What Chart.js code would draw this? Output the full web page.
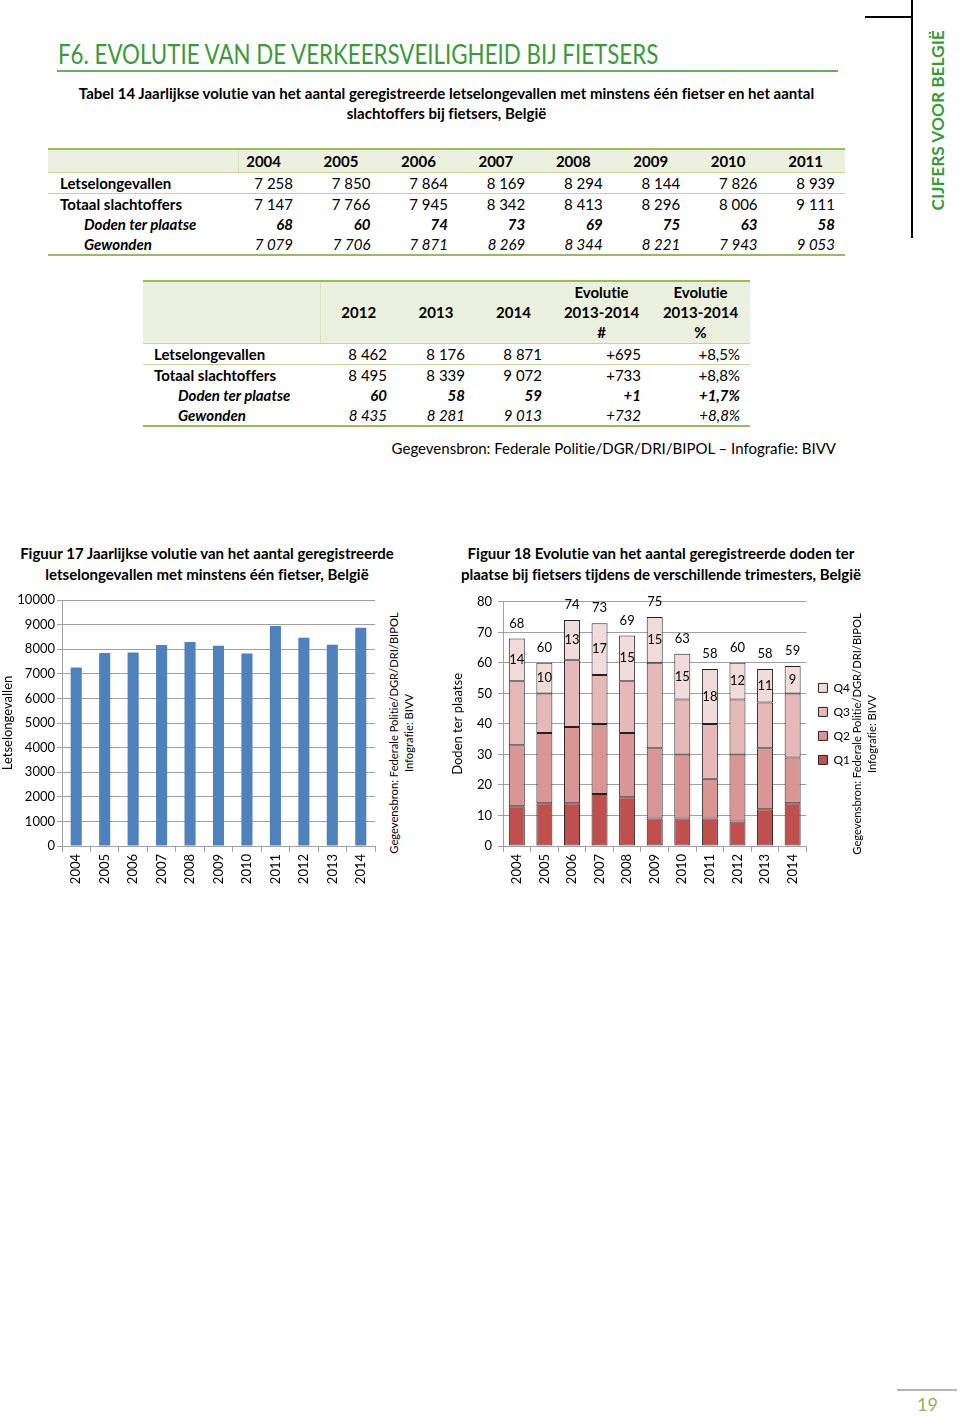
<!DOCTYPE html>
<html>
<head>
<meta charset="utf-8">
<script src="https://cdn.jsdelivr.net/npm/chart.js@4.4.1/dist/chart.umd.min.js"></script>
<style>
    body { margin: 0; width: 960px; height: 1418px; background: #fff; position: relative; overflow: hidden;
           font-family: Lato, 'Open Sans', sans-serif; color: #000; font-variant-ligatures: none; }
    .abs { position: absolute; white-space: nowrap; }
    .tbl { position: absolute; border-collapse: collapse; table-layout: fixed; font-size: 15px; }
    .tbl td { padding: 0 10px 0 0; text-align: right; white-space: nowrap; line-height: 20px; }
    .tbl td.lab { text-align: left; font-weight: bold; }
    .tbl tr.hdr td { background: #ebf1de; font-weight: bold; border-top: 2px solid #9bbb59; }
    .tbl tr.line td { border-bottom: 1px solid #c3d69b; }
    .tbl tr.last td { border-bottom: 2px solid #9bbb59; }
    .tbl tr.bi td { font-weight: bold; font-style: italic; }
    .tbl tr.it td { font-style: italic; }
    .tbl tr.it td.lab { font-weight: bold; }
    .rot { position: absolute; transform: rotate(-90deg); text-align: center; white-space: nowrap; }
    canvas { position: absolute; }
</style>
</head>
<body>

<div class="abs" id="title" style="left:58px;top:38px;font-size:26px;color:#3a9a3a;transform-origin:left center;">F6. EVOLUTIE VAN DE VERKEERSVEILIGHEID BIJ FIETSERS</div>
<div class="abs" style="left:57px;top:70px;width:781px;height:2px;background:#6aae5a;"></div>

<div class="abs" style="left:48px;top:83px;width:797px;text-align:center;font-size:15px;font-weight:bold;line-height:20px;">
    Tabel 14 Jaarlijkse volutie van het aantal geregistreerde letselongevallen met minstens één fietser en het aantal<br>slachtoffers bij fietsers, België
</div>

<table class="tbl" id="tab1" style="left:48px;top:148px;width:797px;"></table>
<table class="tbl" id="tab2" style="left:143px;top:280px;width:607px;"></table>

<div class="abs" style="right:124px;top:438px;font-size:15px;line-height:20px;">Gegevensbron: Federale Politie/DGR/DRI/BIPOL – Infografie: BIVV</div>

<div class="abs" style="left:7px;top:543px;width:400px;text-align:center;font-size:15px;font-weight:bold;line-height:21px;">
    Figuur 17 Jaarlijkse volutie van het aantal geregistreerde<br>letselongevallen met minstens één fietser, België
</div>
<div class="abs" style="left:451px;top:543px;width:420px;text-align:center;font-size:15px;font-weight:bold;line-height:21px;">
    Figuur 18 Evolutie van het aantal geregistreerde doden ter<br>plaatse bij fietsers tijdens de verschillende trimesters, België
</div>

<canvas id="fig17" width="382" height="302" style="left:0px;top:588px;"></canvas>
<canvas id="fig18" width="410" height="302" style="left:450px;top:588px;"></canvas>

<div class="rot" style="left:271px;top:718px;width:260px;font-size:11.2px;line-height:15px;">Gegevensbron: Federale Politie/DGR/DRI/BIPOL<br>Infografie: BIVV</div>
<div class="rot" style="left:734px;top:719px;width:260px;font-size:11.2px;line-height:15px;">Gegevensbron: Federale Politie/DGR/DRI/BIPOL<br>Infografie: BIVV</div>

<!-- side bar -->
<div class="abs" style="left:911px;top:0px;width:2px;height:238px;background:#000;"></div>
<div class="abs" style="left:865px;top:16px;width:47px;height:2px;background:#000;"></div>
<div class="rot" style="left:848px;top:110px;width:180px;height:20px;line-height:20px;font-size:17px;font-weight:bold;color:#3a9a3a;"><span id="side" style="display:inline-block;">CIJFERS VOOR BELGIË</span></div>

<div class="abs" style="left:897px;top:1389px;width:60px;height:2px;background:#b5b5b5;"></div>
<div class="abs" style="left:917px;top:1393px;font-size:18px;color:#9bb05a;">19</div>

<script>
// --- data --- //
const years = ['2004', '2005', '2006', '2007', '2008', '2009', '2010', '2011', '2012', '2013', '2014'];
const letselongevallen = [7258, 7850, 7864, 8169, 8294, 8144, 7826, 8939, 8462, 8176, 8871];
const totaalSlachtoffers = [7147, 7766, 7945, 8342, 8413, 8296, 8006, 9111, 8495, 8339, 9072];
const dodenTerPlaatse = [68, 60, 74, 73, 69, 75, 63, 58, 60, 58, 59];
const gewonden = [7079, 7706, 7871, 8269, 8344, 8221, 7943, 9053, 8435, 8281, 9013];
const evolutieAbs = ['+695', '+733', '+1', '+732'];
const evolutiePct = ['+8,5%', '+8,8%', '+1,7%', '+8,8%'];

// deaths per trimester
const q1 = [13, 14, 14, 17, 16, 9, 9, 9, 8, 12, 14];
const q2 = [20, 23, 25, 23, 21, 23, 21, 13, 22, 20, 15];
const q3 = [21, 13, 22, 16, 17, 28, 18, 18, 18, 15, 21];
const q4 = [14, 10, 13, 17, 15, 15, 15, 18, 12, 11, 9];

const yTicks17 = { min: 0, max: 10000, step: 1000 };
const yTicks18 = { min: 0, max: 80, step: 10 };

function fmt(n) {
    return String(n).replace(/\B(?=(\d{3})+(?!\d))/g, ' ');
}

// --- tables --- //
function buildTable1() {
    const t = document.getElementById('tab1');
    const first = years.slice(0, 8);
    let html = '<colgroup><col style="width:190px"><col style="width:65px">';
    for (let i = 1; i < 8; i++) html += '<col style="width:77.43px">';
    html += '</colgroup>';
    html += '<tr class="hdr line" style="height:23px"><td class="lab" style="border-right:1px solid #d7e4bc"></td>' +
        first.map(y => `<td style="padding-right:22px">${y}</td>`).join('') + '</tr>';
    const rows = [
        ['Letselongevallen', letselongevallen, 'line', 12],
        ['Totaal slachtoffers', totaalSlachtoffers, '', 12],
        ['Doden ter plaatse', dodenTerPlaatse, 'bi', 36],
        ['Gewonden', gewonden, 'it last', 36]
    ];
    rows.forEach(([name, vals, cls, ind]) => {
        html += `<tr class="${cls}" style="height:20px"><td class="lab" style="padding-left:${ind}px">${name}</td>` +
            vals.slice(0, 8).map(v => `<td>${fmt(v)}</td>`).join('') + '</tr>';
    });
    t.innerHTML = html;
}

function buildTable2() {
    const t = document.getElementById('tab2');
    const widths = [177, 77, 78, 77, 99, 99];
    let html = '<colgroup>' + widths.map(w => `<col style="width:${w}px">`).join('') + '</colgroup>';
    const heads = years.slice(8).concat(['Evolutie<br>2013-2014<br>#', 'Evolutie<br>2013-2014<br>%']);
    html += '<tr class="hdr line" style="height:62px"><td class="lab" style="border-right:1px solid #d7e4bc"></td>' +
        heads.map(h => `<td style="text-align:center;padding:0">${h}</td>`).join('') + '</tr>';
    const rows = [
        ['Letselongevallen', letselongevallen, 0, 'line', 11],
        ['Totaal slachtoffers', totaalSlachtoffers, 1, '', 11],
        ['Doden ter plaatse', dodenTerPlaatse, 2, 'bi', 35],
        ['Gewonden', gewonden, 3, 'it last', 35]
    ];
    rows.forEach(([name, vals, k, cls, ind]) => {
        html += `<tr class="${cls}" style="height:20px"><td class="lab" style="padding-left:${ind}px">${name}</td>` +
            vals.slice(8).map(v => `<td>${fmt(v)}</td>`).join('') +
            `<td>${evolutieAbs[k]}</td><td>${evolutiePct[k]}</td></tr>`;
    });
    t.innerHTML = html;
}

buildTable1();
buildTable2();

// squeeze wide text into the width it has in the print
function fitWidth(el, w) {
    el.style.transform = (el.style.transform || '') + ` scaleX(${w / el.offsetWidth})`;
}
fitWidth(document.getElementById('title'), 600);
const side = document.getElementById('side');
side.style.transformOrigin = 'center center';
fitWidth(side, 180);

// --- charts --- //
Chart.defaults.font.family = 'Lato, "Open Sans", sans-serif';
Chart.defaults.color = '#000';

const axisGrey = '#a0a0a0';

new Chart(document.getElementById('fig17'), {
    type: 'bar',
    data: {
        labels: years,
        datasets: [{
            data: letselongevallen,
            backgroundColor: '#4f81bd',
            barPercentage: 0.39,
            categoryPercentage: 1
        }]
    },
    options: {
        responsive: false,
        animation: false,
        layout: { padding: { top: 12, right: 7, left: 0, bottom: 0 } },
        plugins: { legend: { display: false }, tooltip: { enabled: false } },
        scales: {
            x: {
                grid: { offset: true, drawOnChartArea: false, tickLength: 6, color: axisGrey },
                border: { color: axisGrey },
                ticks: { minRotation: 90, maxRotation: 90, font: { size: 13 }, padding: 2 },
                afterFit: s => { s.height = 44; }
            },
            y: {
                min: yTicks17.min,
                max: yTicks17.max,
                ticks: { stepSize: yTicks17.step, font: { size: 13 }, padding: 2, callback: v => String(v) },
                grid: { color: axisGrey, tickLength: 5 },
                border: { color: axisGrey },
                title: { display: true, text: 'Letselongevallen', font: { size: 13 }, padding: 0 },
                afterFit: s => { s.width = 62; }
            }
        }
    }
});

// labels inside the Q4 segment and the total above each stack
const fig18Labels = {
    id: 'fig18Labels',
    afterDatasetsDraw(chart) {
        const ctx = chart.ctx;
        const yScale = chart.scales.y;
        const meta = chart.getDatasetMeta(3);
        ctx.save();
        ctx.font = '13px Lato, "Open Sans", sans-serif';
        ctx.fillStyle = '#000';
        ctx.textAlign = 'center';
        ctx.textBaseline = 'middle';
        meta.data.forEach((bar, i) => {
            ctx.fillText(String(q4[i]), bar.x, (bar.y + bar.base) / 2);
            ctx.fillText(String(dodenTerPlaatse[i]), bar.x, yScale.getPixelForValue(dodenTerPlaatse[i]) - 15);
        });
        ctx.restore();
    }
};

const segment = (label, data, color) => ({
    label: label,
    data: data,
    backgroundColor: color,
    borderColor: '#222',
    borderWidth: 1,
    borderSkipped: false,
    barPercentage: 0.58,
    categoryPercentage: 1
});

new Chart(document.getElementById('fig18'), {
    type: 'bar',
    data: {
        labels: years,
        datasets: [
            segment('Q1', q1, '#c0504d'),
            segment('Q2', q2, '#d99694'),
            segment('Q3', q3, '#e6b9b8'),
            segment('Q4', q4, '#f2dcdb')
        ]
    },
    options: {
        responsive: false,
        animation: false,
        layout: { padding: { top: 12, right: 0, left: 0, bottom: 0 } },
        plugins: {
            legend: {
                position: 'right',
                fullSize: false,
                reverse: true,
                labels: { boxWidth: 9, boxHeight: 9, padding: 12, font: { size: 12 } }
            },
            tooltip: { enabled: false }
        },
        scales: {
            x: {
                stacked: true,
                grid: { offset: true, drawOnChartArea: false, tickLength: 6, color: axisGrey },
                border: { color: axisGrey },
                ticks: { minRotation: 90, maxRotation: 90, font: { size: 13 }, padding: 2 },
                afterFit: s => { s.height = 44; }
            },
            y: {
                stacked: true,
                min: yTicks18.min,
                max: yTicks18.max,
                ticks: { stepSize: yTicks18.step, font: { size: 13 }, padding: 6 },
                grid: { color: axisGrey, tickLength: 5 },
                border: { color: axisGrey },
                title: { display: true, text: 'Doden ter plaatse', font: { size: 13 }, padding: 0 },
                afterFit: s => { s.width = 53; }
            }
        }
    },
    plugins: [fig18Labels]
});
</script>
</body>
</html>
